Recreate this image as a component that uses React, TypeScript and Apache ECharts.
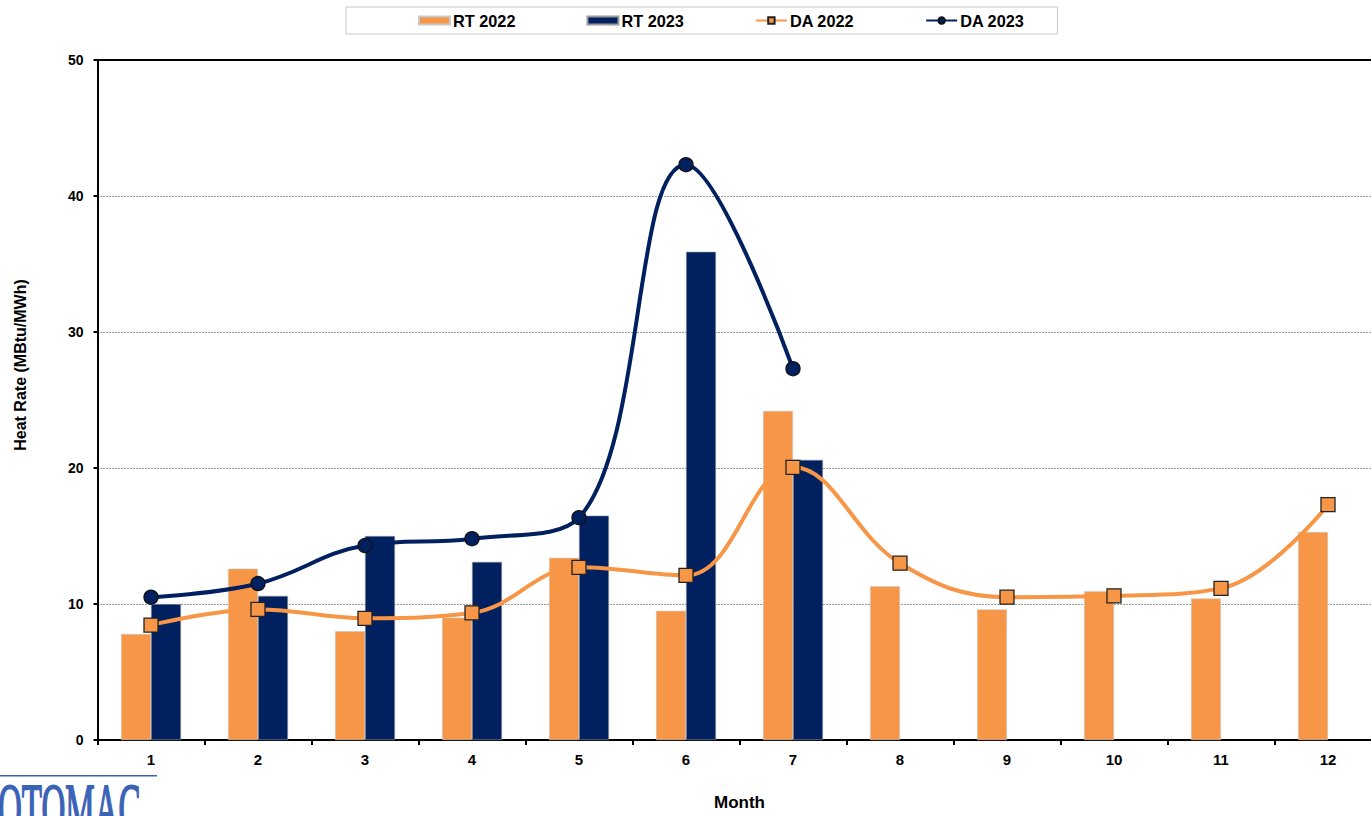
import React, { useEffect, useRef } from "react";
import * as echarts from "echarts";

const months = ["1", "2", "3", "4", "5", "6", "7", "8", "9", "10", "11", "12"];
const rt2022 = [7.8, 12.6, 8.0, 9.0, 13.4, 9.5, 24.2, 11.3, 9.6, 10.95, 10.4, 15.3];
const rt2023: (number | null)[] = [10.0, 10.6, 15.0, 13.1, 16.5, 35.9, 20.6, null, null, null, null, null];
const da2022 = [8.45, 9.6, 8.95, 9.35, 12.7, 12.1, 20.05, 13.0, 10.5, 10.6, 11.15, 17.3];
const da2023: (number | null)[] = [10.5, 11.5, 14.3, 14.8, 16.35, 42.3, 27.3, null, null, null, null, null];

const ORANGE = "#F79646";
const NAVY = "#002060";
const FONT = "Liberation Sans, Arial, sans-serif";

export default function App() {
  const ref = useRef<HTMLDivElement>(null);
  useEffect(() => {
    if (!ref.current) return;
    const chart = echarts.init(ref.current, null, { renderer: "svg" });
    chart.setOption({
      animation: false,
      backgroundColor: "#fff",
      textStyle: { fontFamily: FONT },
      legend: {
        left: 346,
        top: 7,
        padding: [5, 33, 5, 72],
        borderColor: "#c8c8c8",
        borderWidth: 1,
        itemGap: 71,
        itemWidth: 31,
        itemHeight: 8,
        textStyle: { fontSize: 16.3, fontWeight: "bold", color: "#000", fontFamily: FONT, lineHeight: 17, padding: [0, 0, 0, -2] },
        data: [
          { name: "RT 2022", icon: "rect" },
          { name: "RT 2023", icon: "rect" },
          { name: "DA 2022" },
          { name: "DA 2023" },
        ],
      },
      grid: { left: 97.5, width: 1284, top: 60, height: 683, containLabel: false },
      xAxis: [
        {
          type: "category",
          data: months,
          boundaryGap: true,
          name: "Month",
          nameLocation: "middle",
          nameGap: 54,
          nameTextStyle: { fontSize: 17, fontWeight: "bold", color: "#000", fontFamily: FONT },
          axisLine: { show: true, lineStyle: { color: "#000", width: 2 } },
          axisTick: { show: true, length: 5, lineStyle: { color: "#000", width: 2 } },
          axisLabel: { fontSize: 15, fontWeight: "bold", color: "#000", margin: 12, fontFamily: FONT },
          splitLine: { show: false },
        },
        {
          type: "category",
          data: months,
          position: "top",
          axisLine: { show: true, lineStyle: { color: "#000", width: 2 } },
          axisTick: { show: false },
          axisLabel: { show: false },
        },
      ],
      yAxis: {
        type: "value",
        min: 0,
        max: 50,
        interval: 10,
        axisLine: { show: true, lineStyle: { color: "#000", width: 2 } },
        axisTick: { show: true, length: 4, lineStyle: { color: "#000", width: 2 } },
        axisLabel: { fontSize: 14, fontWeight: "bold", color: "#000", margin: 14, fontFamily: FONT },
        splitLine: { show: true, lineStyle: { color: "#333", width: 1, type: [1, 2] } },
      },
      series: [
        {
          name: "RT 2022",
          type: "bar",
          data: rt2022,
          barWidth: 30,
          barGap: "0%",
          itemStyle: { color: ORANGE, borderColor: "#c9c9c9", borderWidth: 0.6 },
        },
        {
          name: "RT 2023",
          type: "bar",
          data: rt2023,
          barWidth: 30,
          barGap: "0%",
          itemStyle: { color: NAVY, borderColor: "#9a9a9a", borderWidth: 0.6 },
        },
        {
          name: "DA 2022",
          type: "line",
          data: da2022,
          smooth: 0.4,
          symbol: "rect",
          symbolSize: 14,
          lineStyle: { color: ORANGE, width: 4 },
          itemStyle: { color: ORANGE, borderColor: "#222", borderWidth: 1.3 },
          z: 3,
        },
        {
          name: "DA 2023",
          type: "line",
          data: da2023,
          smooth: 0.4,
          symbol: "circle",
          symbolSize: 14,
          connectNulls: false,
          lineStyle: { color: NAVY, width: 4 },
          itemStyle: { color: NAVY, borderColor: "#111", borderWidth: 1.3 },
          z: 4,
        },
      ],
      graphic: [
        {
          type: "text",
          x: 20,
          y: 365,
          rotation: Math.PI / 2,
          style: {
            text: "Heat Rate (MBtu/MWh)",
            x: 0,
            y: 0,
            align: "center",
            verticalAlign: "middle",
            fontSize: 16,
            fontWeight: "bold",
            fill: "#000",
            fontFamily: FONT,
          },
        },
        {
          type: "rect",
          shape: { x: 0, y: 775, width: 157, height: 1.5 },
          style: { fill: "#3A62B5" },
        },
        {
          type: "text",
          x: -2,
          y: 774,
          scaleY: 2.1,
          style: {
            text: "OTOMAC",
            x: 0,
            y: 0,
            align: "left",
            verticalAlign: "top",
            fontSize: 33,
            fill: "#3A62B5",
            stroke: "#3A62B5",
            lineWidth: 0.9,
            fontFamily: "Liberation Serif, Times New Roman, serif",
          },
        },
      ],
    });
    return () => chart.dispose();
  }, []);
  return (
    <div style={{ position: "fixed", left: 0, top: 0, width: 1371, height: 816, overflow: "hidden", background: "#fff" }}>
      <div ref={ref} style={{ width: 1382, height: 816 }} />
    </div>
  );
}
